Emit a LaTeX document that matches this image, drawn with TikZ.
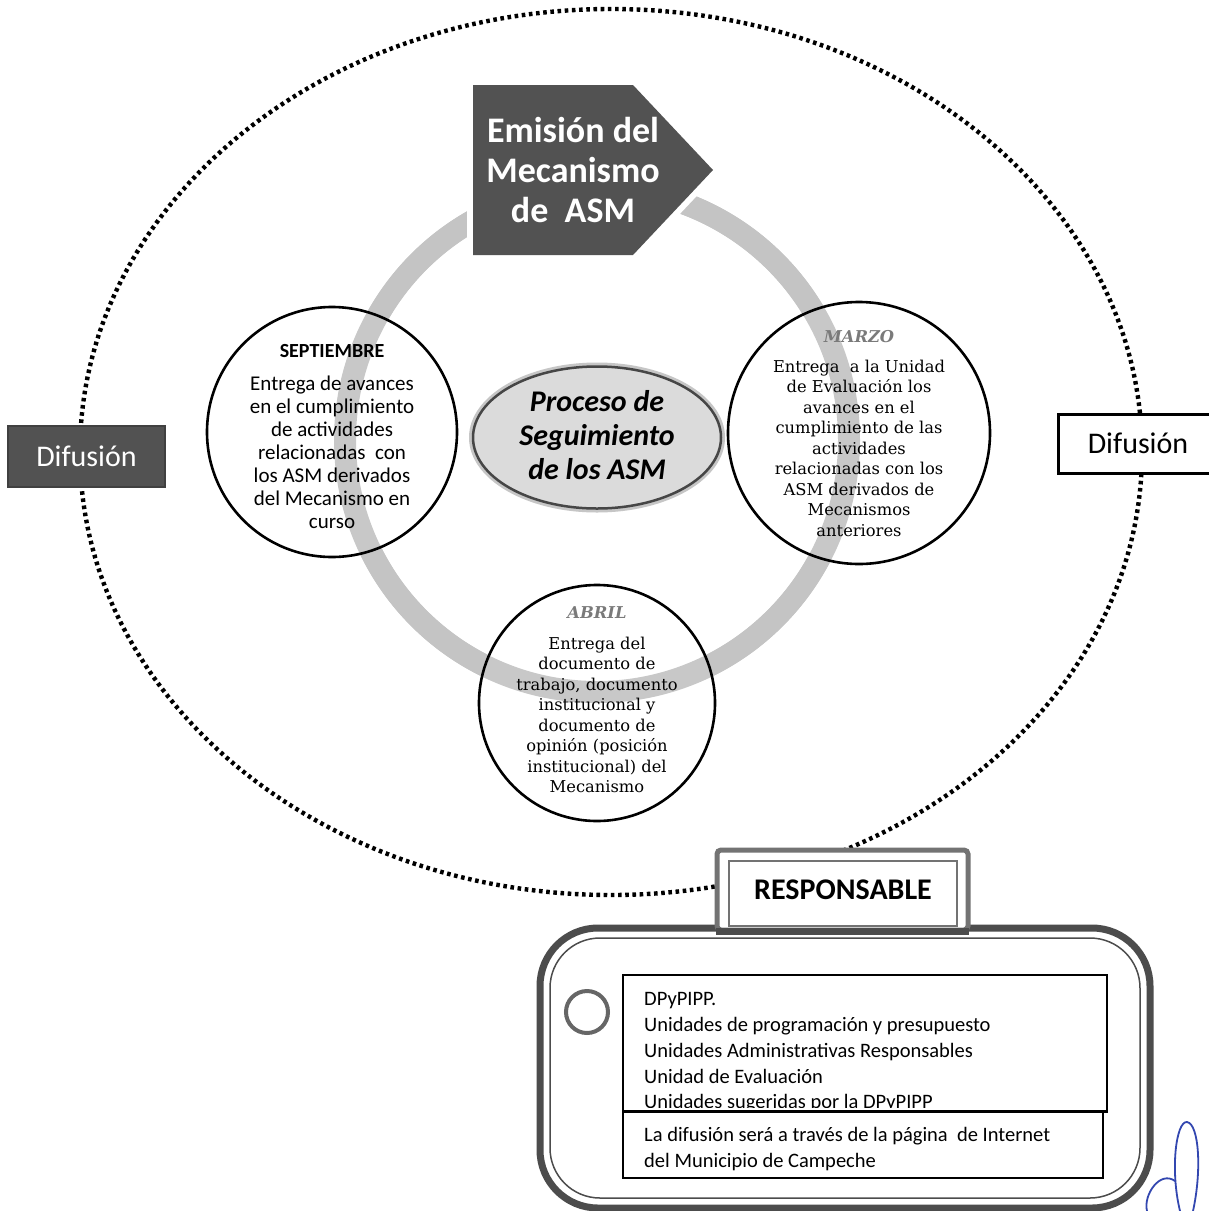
\documentclass[tikz,border=0pt]{standalone}
\usepackage{fontspec}
\setmainfont{Carlito}
\newfontfamily\serifx{DejaVu Serif}
\usetikzlibrary{shapes.geometric,calc}
\definecolor{ringgray}{HTML}{C4C4C4}
\definecolor{ringlight}{HTML}{C8C8C8}
\definecolor{darkbox}{HTML}{525252}
\definecolor{monthgray}{HTML}{7A7A7A}
\definecolor{sigblue}{HTML}{3347B0}
\begin{document}
\begin{tikzpicture}[x=1pt,y=-1pt,
  dotring/.style={line width=4.4pt, dash pattern=on 3.6pt off 3.6pt, black},
  ringbar/.style={line width=22pt, draw=ringgray},
  ringbarlight/.style={line width=22pt, draw=ringlight},
  monthcircle/.style={circle, draw=black, line width=2.6pt, inner sep=0pt},
  calibritext/.style={align=center, font=\fontsize{21}{23}\selectfont, inner sep=0pt},
  seriftext/.style={align=center, font=\serifx\fontsize{16.3}{20.5}\selectfont, inner sep=0pt},
  serifhead/.style={font=\serifx\bfseries\itshape\fontsize{16.3}{20}\selectfont, text=monthgray, inner sep=0pt},
  listtext/.style={align=left, anchor=west, font=\fontsize{20.5}{25.7}\selectfont, inner sep=0pt},
  difbox/.style={minimum width=157pt, minimum height=61pt, inner sep=0pt, font=\fontsize{30}{32}\selectfont}
]
\useasboundingbox (0,0) rectangle (1209,1211);
\fill[white] (0,0) rectangle (1209,1211);

% gray ring
\coordinate (ringc) at (597,440);
\draw[ringbarlight] (ringc) circle [radius=252];
\draw[ringbar] ($(ringc)+(27.9:252)$) arc [start angle=27.9, end angle=63.6, radius=252];
\draw[ringbar] ($(ringc)+(116.4:252)$) arc [start angle=116.4, end angle=153.9, radius=252];
\draw[ringbar] ($(ringc)+(209.5:252)$) arc [start angle=209.5, end angle=329.1, radius=252];

% dotted ellipse
\draw[dotring] (611,452) ellipse [x radius=531, y radius=443];

% arrow pentagon
\draw[white, line width=12pt, line join=miter] (473,85) -- (633,85) -- (713,170) -- (633,255) -- (473,255) -- cycle;
\fill[darkbox] (473,85) -- (633,85) -- (713,170) -- (633,255) -- (473,255) -- cycle;
\node[align=center, text=white, font=\bfseries\fontsize{36}{40}\selectfont, inner sep=0pt] (emision) at (573,170) {Emisión del\\Mecanismo\\de\ \ ASM};

% Difusion boxes
\node[difbox, fill=darkbox, draw=black!75, line width=2pt, text=white] (difL) at (86.5,456.5) {Difusión};
\node[difbox, fill=white, draw=black, line width=3pt, text=black, minimum width=160pt, minimum height=59pt] (difR) at (1138,443.5) {Difusión};

% month circles
\node[monthcircle, minimum size=250pt] (sep) at (332,432) {};
\node[monthcircle, minimum size=262pt] (mar) at (859,433) {};
\node[monthcircle, minimum size=236pt] (abr) at (597,703) {};

\node[calibritext, font=\bfseries\fontsize{20}{22}\selectfont] (septh) at (332,351) {SEPTIEMBRE};
\node[calibritext] (septb) at (332,452) {Entrega de avances\\en el cumplimiento\\de actividades\\relacionadas\ \ con\\los ASM derivados\\del Mecanismo en\\curso};

\node[serifhead] (marh) at (859,337) {MARZO};
\node[seriftext] (marb) at (859,448) {Entrega\ \ a la Unidad\\de Evaluación los\\avances en el\\cumplimiento de las\\actividades\\relacionadas con los\\ASM derivados de\\Mecanismos\\anteriores};

\node[serifhead] (abrh) at (597,613) {ABRIL};
\node[seriftext] (abrb) at (597,715) {Entrega del\\documento de\\trabajo, documento\\institucional y\\documento de\\opinión (posición\\institucional) del\\Mecanismo};

% center ellipse
\draw[gray!45, line width=6pt] (597,437.5) ellipse [x radius=125, y radius=72];
\node[ellipse, minimum width=248pt, minimum height=142pt, fill=gray!28, draw=gray!55!black, line width=2.5pt] (proc) at (597,437.5) {};
\node[align=center, font=\bfseries\itshape\fontsize{30}{34}\selectfont, inner sep=0pt] (proct) at (597,435) {Proceso de\\Seguimiento\\de los ASM};

% big responsable box
\draw[black!70, line width=7pt, fill=white, rounded corners=58pt] (540,928) rectangle (1150,1208);
\draw[black!70, line width=1.5pt, rounded corners=50pt] (550,938) rectangle (1140,1198);

% tab
\draw[black!55, line width=5pt, fill=white, rounded corners=4pt] (717,850) rectangle (968,930);
\draw[black!55, line width=1.5pt] (729,861) rectangle (957,926);
\node[font=\bfseries\fontsize{30}{32}\selectfont, inner sep=0pt] (resp) at (843,890) {RESPONSABLE};
\draw[black!70, line width=7pt] (716,931) -- (969,931);

% small circle
\node[circle, draw=black!60, line width=4pt, minimum size=42pt, inner sep=0pt] (dot) at (587,1012) {};

% list box
\node[draw=black, line width=1.6pt, minimum width=484pt, minimum height=137pt, inner sep=0pt] (list) at (865,1043.5) {};
\begin{scope}
\clip (623,975) rectangle (1107,1107);
\node[listtext] (listt) at (644,1052.5) {DPyPIPP.\\Unidades de programación y presupuesto\\Unidades Administrativas Responsables\\Unidad de Evaluación\\Unidades sugeridas por la DPyPIPP};
\end{scope}
\draw[black, line width=2.4pt] (623,1111) -- (1107,1111);

\node[draw=black, line width=1.6pt, minimum width=480pt, minimum height=66pt, inner sep=0pt] (dif) at (863,1145) {};
\node[listtext] (dift) at (644,1149) {La difusión será a través de la página\ \ de Internet\\del Municipio de Campeche};

% signature
\draw[sigblue, line width=1.8pt, line cap=round] (1175,1181) .. controls (1160,1170) and (1143,1195) .. (1147,1211);
\draw[sigblue, line width=1.8pt, line cap=round] (1180,1211) .. controls (1170,1170) and (1176,1121) .. (1187,1122) .. controls (1199,1124) and (1202,1170) .. (1193,1211);
\end{tikzpicture}
\end{document}
